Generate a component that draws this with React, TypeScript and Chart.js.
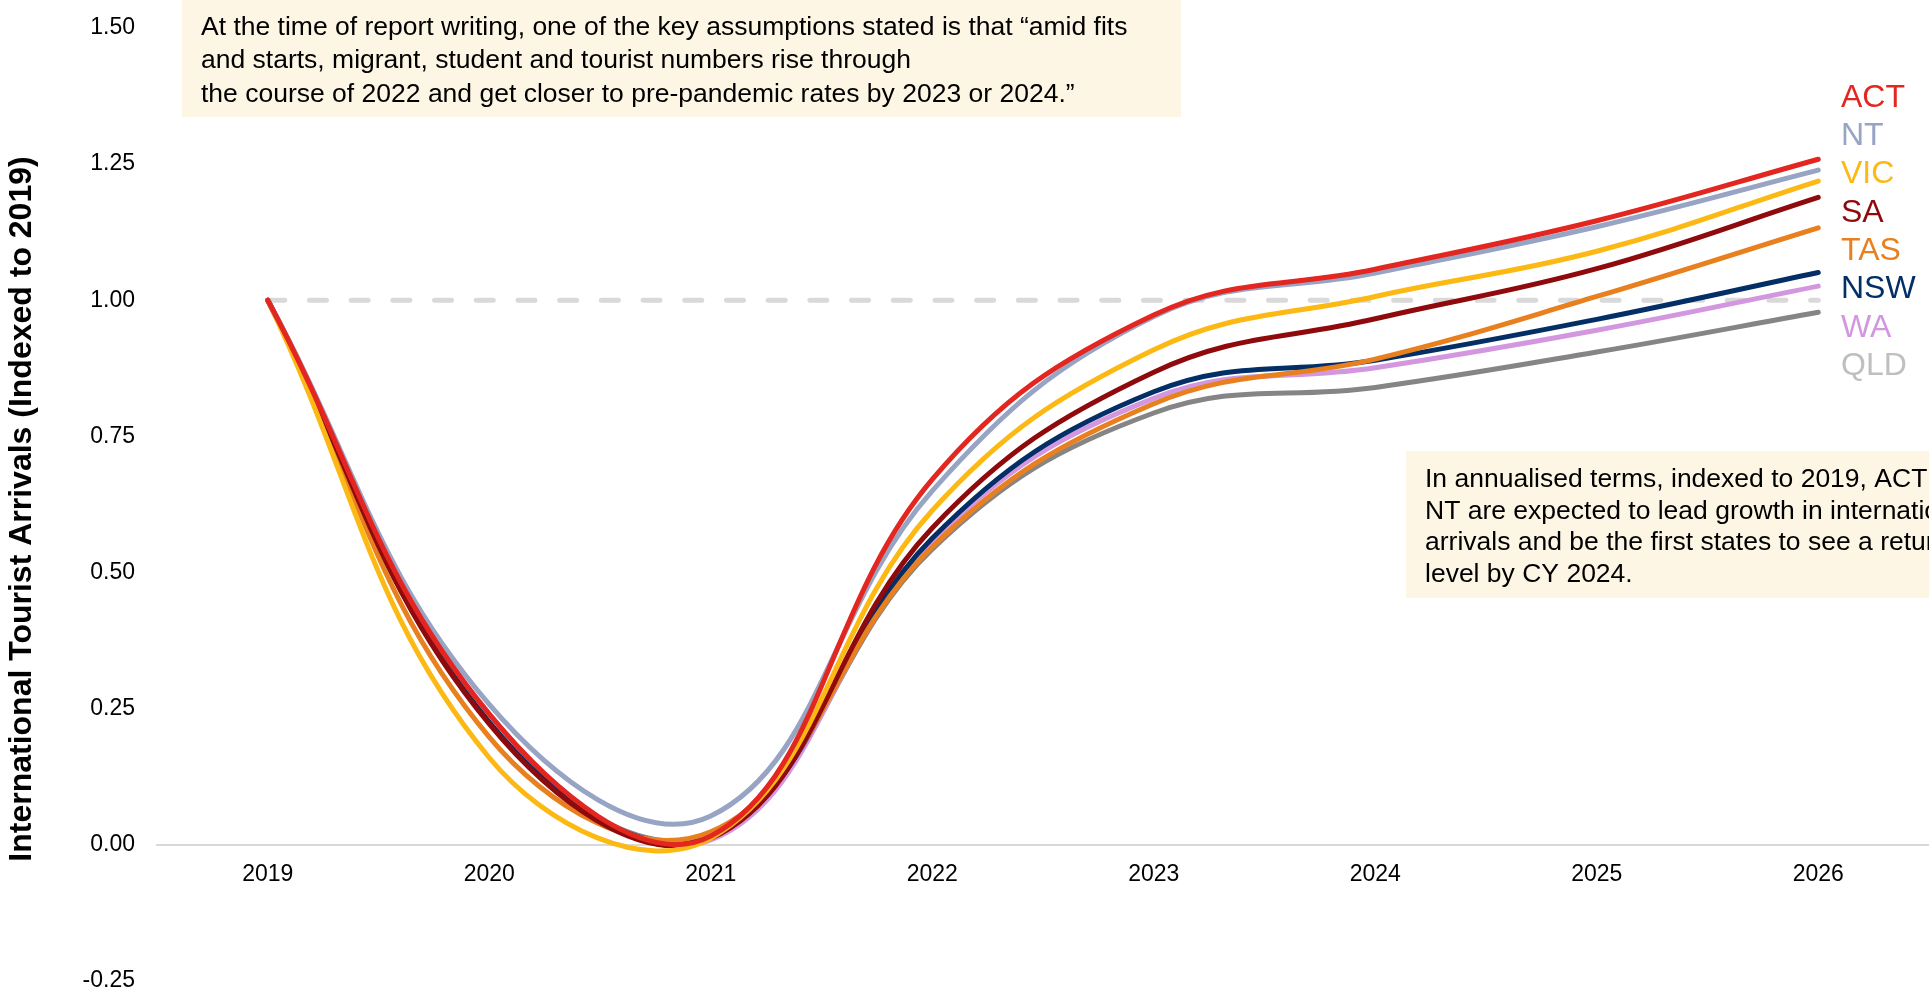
import React, { useEffect, useRef } from 'react';
import { Chart, registerables } from 'chart.js';

Chart.register(...registerables);

const years = ['2019', '2020', '2021', '2022', '2023', '2024', '2025', '2026'];
const yTicks = [-0.25, 0, 0.25, 0.5, 0.75, 1, 1.25, 1.5];

const ACT = [1, 0.24, 0.016, 0.671, 0.973, 1.057, 1.146, 1.259];
const NT = [1, 0.258, 0.053, 0.65, 0.97, 1.05, 1.135, 1.239];
const VIC = [1, 0.16, 0.012, 0.614, 0.909, 1.007, 1.09, 1.219];
const SA = [1, 0.222, 0.012, 0.582, 0.868, 0.966, 1.058, 1.189];
const TAS = [1, 0.198, 0.024, 0.547, 0.81, 0.892, 1.007, 1.133];
const NSW = [1, 0.225, 0.017, 0.563, 0.832, 0.89, 0.965, 1.051];
const WA = [1, 0.24, 0.009, 0.557, 0.82, 0.876, 0.945, 1.026];
const QLD = [1, 0.225, 0.019, 0.543, 0.793, 0.84, 0.905, 0.978];
const REFERENCE = [1, 1, 1, 1, 1, 1, 1, 1];

const seriesNames = ['ACT', 'NT', 'VIC', 'SA', 'TAS', 'NSW', 'WA', 'QLD'];
const seriesData = [ACT, NT, VIC, SA, TAS, NSW, WA, QLD];
const lineColors = ['#e3261f', '#97a4c4', '#fdb913', '#8f0a0d', '#e8801f', '#032f66', '#d397e0', '#858585'];
const labelColors = ['#e3261f', '#97a4c4', '#fdb913', '#8f0a0d', '#e8801f', '#032f66', '#d397e0', '#bfbfbf'];

const yTitle = 'International Tourist Arrivals (Indexed to 2019)';
const note1 = [
  'At the time of report writing, one of the key assumptions stated is that \u201camid fits',
  'and starts, migrant, student and tourist numbers rise through',
  'the course of 2022 and get closer to pre-pandemic rates by 2023 or 2024.\u201d',
];
const note2 = [
  'In annualised terms, indexed to 2019, ACT and',
  'NT are expected to lead growth in international',
  'arrivals and be the first states to see a return to 2019',
  'level by CY 2024.',
];

const FONT = "'Liberation Sans', Arial, Helvetica, sans-serif";

const decorPlugin = {
  id: 'decor',
  beforeDatasetsDraw(chart: any) {
    const ctx = chart.ctx;
    ctx.save();
    ctx.fillStyle = '#fdf6e4';
    ctx.fillRect(182, 0, 999, 117);
    ctx.fillStyle = '#000000';
    ctx.font = `26.5px ${FONT}`;
    ctx.textAlign = 'left';
    ctx.textBaseline = 'alphabetic';
    note1.forEach((t, i) => ctx.fillText(t, 201, 34.5 + i * 33.5));
    ctx.fillStyle = '#fdf6e4';
    ctx.fillRect(1406, 451, 540, 147);
    ctx.fillStyle = '#000000';
    note2.forEach((t, i) => ctx.fillText(t, 1425, 487 + i * 31.6));
    ctx.restore();
  },
  afterDraw(chart: any) {
    const ctx = chart.ctx;
    ctx.save();
    ctx.translate(22, 509);
    ctx.rotate(-Math.PI / 2);
    ctx.font = `bold 32px ${FONT}`;
    ctx.fillStyle = '#000000';
    ctx.textAlign = 'center';
    ctx.textBaseline = 'middle';
    ctx.fillText(yTitle, 0, 0);
    ctx.restore();
    ctx.save();
    ctx.font = `32px ${FONT}`;
    ctx.textAlign = 'left';
    ctx.textBaseline = 'middle';
    seriesNames.forEach((n, i) => {
      ctx.fillStyle = labelColors[i];
      ctx.fillText(n, 1841, 98 + i * 38.3);
    });
    ctx.restore();
  },
};

export default function App() {
  const ref = useRef<HTMLCanvasElement | null>(null);
  useEffect(() => {
    document.body.style.margin = '0';
    Chart.defaults.font.family = FONT;
    const datasets: any[] = seriesNames.map((n, i) => ({
      label: n,
      data: seriesData[i],
      borderColor: lineColors[i],
      backgroundColor: lineColors[i],
      borderWidth: 5,
      pointRadius: 0,
      tension: 0.4,
      borderCapStyle: 'round',
      borderJoinStyle: 'round',
      fill: false,
    }));
    datasets.push({
      label: 'Baseline',
      data: REFERENCE,
      borderColor: '#d9d9d9',
      borderWidth: 5,
      borderDash: [17, 24.7],
      borderCapStyle: 'round',
      pointRadius: 0,
      tension: 0,
      fill: false,
    });
    const chart = new Chart(ref.current as HTMLCanvasElement, {
      type: 'line',
      data: { labels: years, datasets },
      plugins: [decorPlugin],
      options: {
        animation: false,
        responsive: false,
        devicePixelRatio: 1,
        layout: { padding: { top: 28, bottom: 13, left: 0, right: 0 } },
        plugins: { legend: { display: false }, tooltip: { enabled: false } },
        scales: {
          x: {
            type: 'category',
            offset: true,
            position: { y: 0 } as any,
            grid: { display: false, drawTicks: false },
            border: { display: true, color: '#d9d9d9', width: 2 },
            ticks: { color: '#000000', font: { size: 23 }, padding: 16, maxRotation: 0 },
            afterFit: (s: any) => { s.height = 0; s.paddingTop = 0; s.paddingBottom = 0; },
          },
          y: {
            min: yTicks[0],
            max: yTicks[yTicks.length - 1],
            afterBuildTicks: (s: any) => { s.ticks = yTicks.map((v) => ({ value: v })); },
            grid: { display: false, drawTicks: false },
            border: { display: false },
            ticks: {
              color: '#000000',
              font: { size: 23 },
              padding: 22,
              callback: (v: any) => Number(v).toFixed(2),
            },
            afterFit: (s: any) => { s.width = 157; s.paddingTop = 0; s.paddingBottom = 0; },
          },
        },
      },
    });
    return () => chart.destroy();
  }, []);
  return (
    <div style={{ position: 'fixed', left: 0, top: 0, width: '1929px', height: '994px', background: '#ffffff' }}>
      <canvas ref={ref} width={1929} height={994} style={{ display: 'block' }} />
    </div>
  );
}
